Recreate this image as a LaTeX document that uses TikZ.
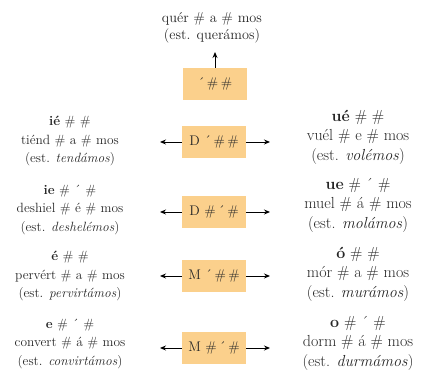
\documentclass[tikz,border=0pt]{standalone}
\usepackage{fontspec}
\usetikzlibrary{arrows.meta}
\definecolor{boxfill}{HTML}{FBD08C}
\definecolor{txt}{HTML}{262626}
\tikzset{
  morph/.style={fill=boxfill, minimum width=64pt, minimum height=32pt, inner sep=0pt, text=txt, font=\fontsize{14}{16}\selectfont},
  lgroup/.style={align=center, text=txt, inner sep=0pt, font=\fontsize{13.4}{18.8}\selectfont},
  rgroup/.style={align=center, text=txt, inner sep=0pt, font=\fontsize{16}{19.5}\selectfont},
  tgroup/.style={align=center, text=txt, inner sep=0pt, font=\fontsize{14.3}{17}\selectfont},
  conn/.style={-{Stealth[length=6pt,width=5pt]}, line width=0.9pt, black}
}
\begin{document}
\begin{tikzpicture}[x=1pt,y=-1pt]
\useasboundingbox (0,0) rectangle (423,377);
% boxes
\node[morph] (b0) at (215,84) {´\,\#\,\#};
\node[morph] (b1) at (214,142) {D ´\,\#\,\#};
\node[morph] (b2) at (214,212) {D \#\,´\,\#};
\node[morph] (b3) at (214,276) {M ´\,\#\,\#};
\node[morph] (b4) at (214,348) {M \#\,´\,\#};
% top text
\node[tgroup] (t0) at (212,28) {quér \# a \# mos\\(est. querámos)};
\coordinate (u0) at (215,52);
\draw[conn] (b0.north) -- (u0);
% left texts
\node[lgroup] (l1) at (70,141) {\textbf{ié} \# \#\\tiénd \# a \# mos\\(est. \textit{tendámos})};
\node[lgroup] (l2) at (70,210) {\textbf{ie} \# ´ \#\\deshiel \# é \# mos\\(est. \textit{deshelémos})};
\node[lgroup] (l3) at (70,276) {\textbf{é} \# \#\\pervért \# a \# mos\\(est. \textit{pervirtámos})};
\node[lgroup] (l4) at (70,344) {\textbf{e} \# ´ \#\\convert \# á \# mos\\(est. \textit{convirtámos})};
% right texts
\node[rgroup] (r1) at (358,137) {\textbf{ué} \# \#\\vuél \# e \# mos\\(est. \textit{volémos})};
\node[rgroup] (r2) at (358,205) {\textbf{ue} \# ´ \#\\muel \# á \# mos\\(est. \textit{molámos})};
\node[rgroup] (r3) at (358,274) {\textbf{ó} \# \#\\mór \# a \# mos\\(est. \textit{murámos})};
\node[rgroup] (r4) at (358,343) {\textbf{o} \# ´ \#\\dorm \# á \# mos\\(est. \textit{durmámos})};
% arrow ends
\foreach \i/\y in {1/142,2/212,3/276,4/348}{
  \coordinate (al\i) at (160,\y);
  \coordinate (ar\i) at (270,\y);
  \draw[conn] (b\i.west) -- (al\i);
  \draw[conn] (b\i.east) -- (ar\i);
}
\end{tikzpicture}
\end{document}
